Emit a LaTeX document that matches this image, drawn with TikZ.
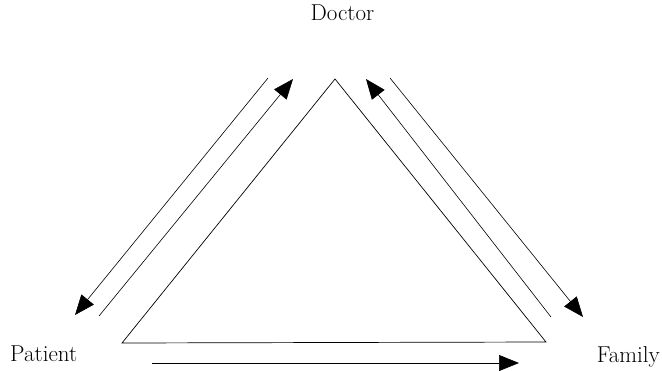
\documentclass[tikz,border=0pt]{standalone}
\usetikzlibrary{arrows.meta}
\begin{document}
\begin{tikzpicture}[x=1pt,y=-1pt,
  lbl/.style={font=\fontsize{23}{27}\selectfont, inner sep=0pt},
  edge/.style={line width=0.7pt, draw=black},
  arr/.style={line width=0.6pt, -{Triangle[length=20pt,width=16pt]}}]
\useasboundingbox (0,0) rectangle (662,370);
% labels
\node[lbl, anchor=base] (doctor) at (342.5,20.5) {Doctor};
\node[lbl, anchor=base west] (patient) at (10,361.5) {Patient};
\node[lbl, anchor=base east] (family) at (660,362) {Family};
% triangle
\coordinate (apex) at (335,79);
\coordinate (bl) at (122,343);
\coordinate (br) at (546,342);
\draw[edge] (bl) -- (apex) -- (br) -- cycle;
% left pair
\coordinate (a1) at (268,78);
\coordinate (a2) at (75,315);
\coordinate (b1) at (99,316);
\coordinate (b2) at (293,79);
\draw[arr] (a1) -- (a2);
\draw[arr] (b1) -- (b2);
% right pair
\coordinate (c1) at (551,317);
\coordinate (c2) at (366,79);
\coordinate (d1) at (390,78);
\coordinate (d2) at (583,317);
\draw[arr] (c1) -- (c2);
\draw[arr] (d1) -- (d2);
% bottom
\coordinate (e1) at (152,363);
\coordinate (e2) at (519,363);
\draw[arr] (e1) -- (e2);
\end{tikzpicture}
\end{document}
